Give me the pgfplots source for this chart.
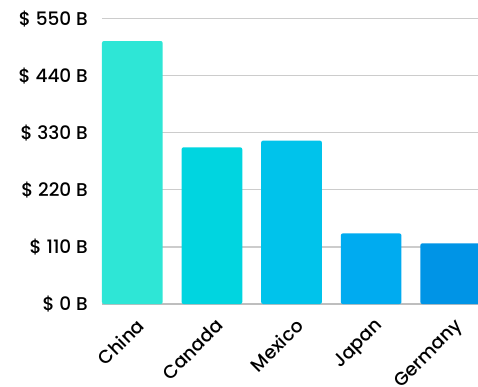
\documentclass[border=0pt]{standalone}
\usepackage{pgfplots}
\pgfplotsset{compat=1.18}
\usepackage{fontspec}
\setmainfont{Poppins}[UprightFont={* Medium}]
\definecolor{cChina}{RGB}{46,230,214}
\definecolor{cCanada}{RGB}{0,213,224}
\definecolor{cMexico}{RGB}{0,195,235}
\definecolor{cJapan}{RGB}{0,171,240}
\definecolor{cGermany}{RGB}{0,148,230}
\definecolor{gridc}{RGB}{204,204,204}
\definecolor{axisc}{RGB}{190,190,190}
\begin{document}
\begin{tikzpicture}
\begin{axis}[
  at={(0,0)}, anchor=south west,
  scale only axis, width=376pt, height=285.3pt,
  xmin=-0.381, xmax=4.343, ymin=0, ymax=550,
  axis x line*=bottom, axis y line*=left,
  y axis line style={draw=none},
  x axis line style={draw=axisc, line width=1.6pt},
  ymajorgrids, grid style={draw=gridc, line width=1.2pt},
  major tick length=0pt, tick style={draw=none},
  ytick={0,110,220,330,440,550},
  yticklabels={\$ 0 B,\$ 110 B,\$ 220 B,\$ 330 B,\$ 440 B,\$ 550 B},
  yticklabel style={font=\fontsize{18.5}{18.5}\selectfont, anchor=east, inner sep=0pt, xshift=-14pt},
  xtick={0,1,2,3,4},
  xticklabels={China,Canada,Mexico,Japan,Germany},
  xticklabel style={font=\fontsize{18.5}{18.5}\selectfont, inner sep=0pt, anchor=north east, xshift=3pt, yshift=-13pt, rotate=45},
  clip=true,
]
\addplot[ybar, bar shift=0pt, bar width=60.7pt, fill=cChina, draw=none, rounded corners=2pt] coordinates {(0,507)};
\addplot[ybar, bar shift=0pt, bar width=60.7pt, fill=cCanada, draw=none, rounded corners=2pt] coordinates {(1,302)};
\addplot[ybar, bar shift=0pt, bar width=60.7pt, fill=cMexico, draw=none, rounded corners=2pt] coordinates {(2,315)};
\addplot[ybar, bar shift=0pt, bar width=60.7pt, fill=cJapan, draw=none, rounded corners=2pt] coordinates {(3,136)};
\addplot[ybar, bar shift=0pt, bar width=60.7pt, fill=cGermany, draw=none, rounded corners=2pt] coordinates {(4,117)};
\end{axis}
\pgfresetboundingbox
\path[use as bounding box] (-102pt,-83pt) rectangle (376pt,304pt);
\end{tikzpicture}
\end{document}
